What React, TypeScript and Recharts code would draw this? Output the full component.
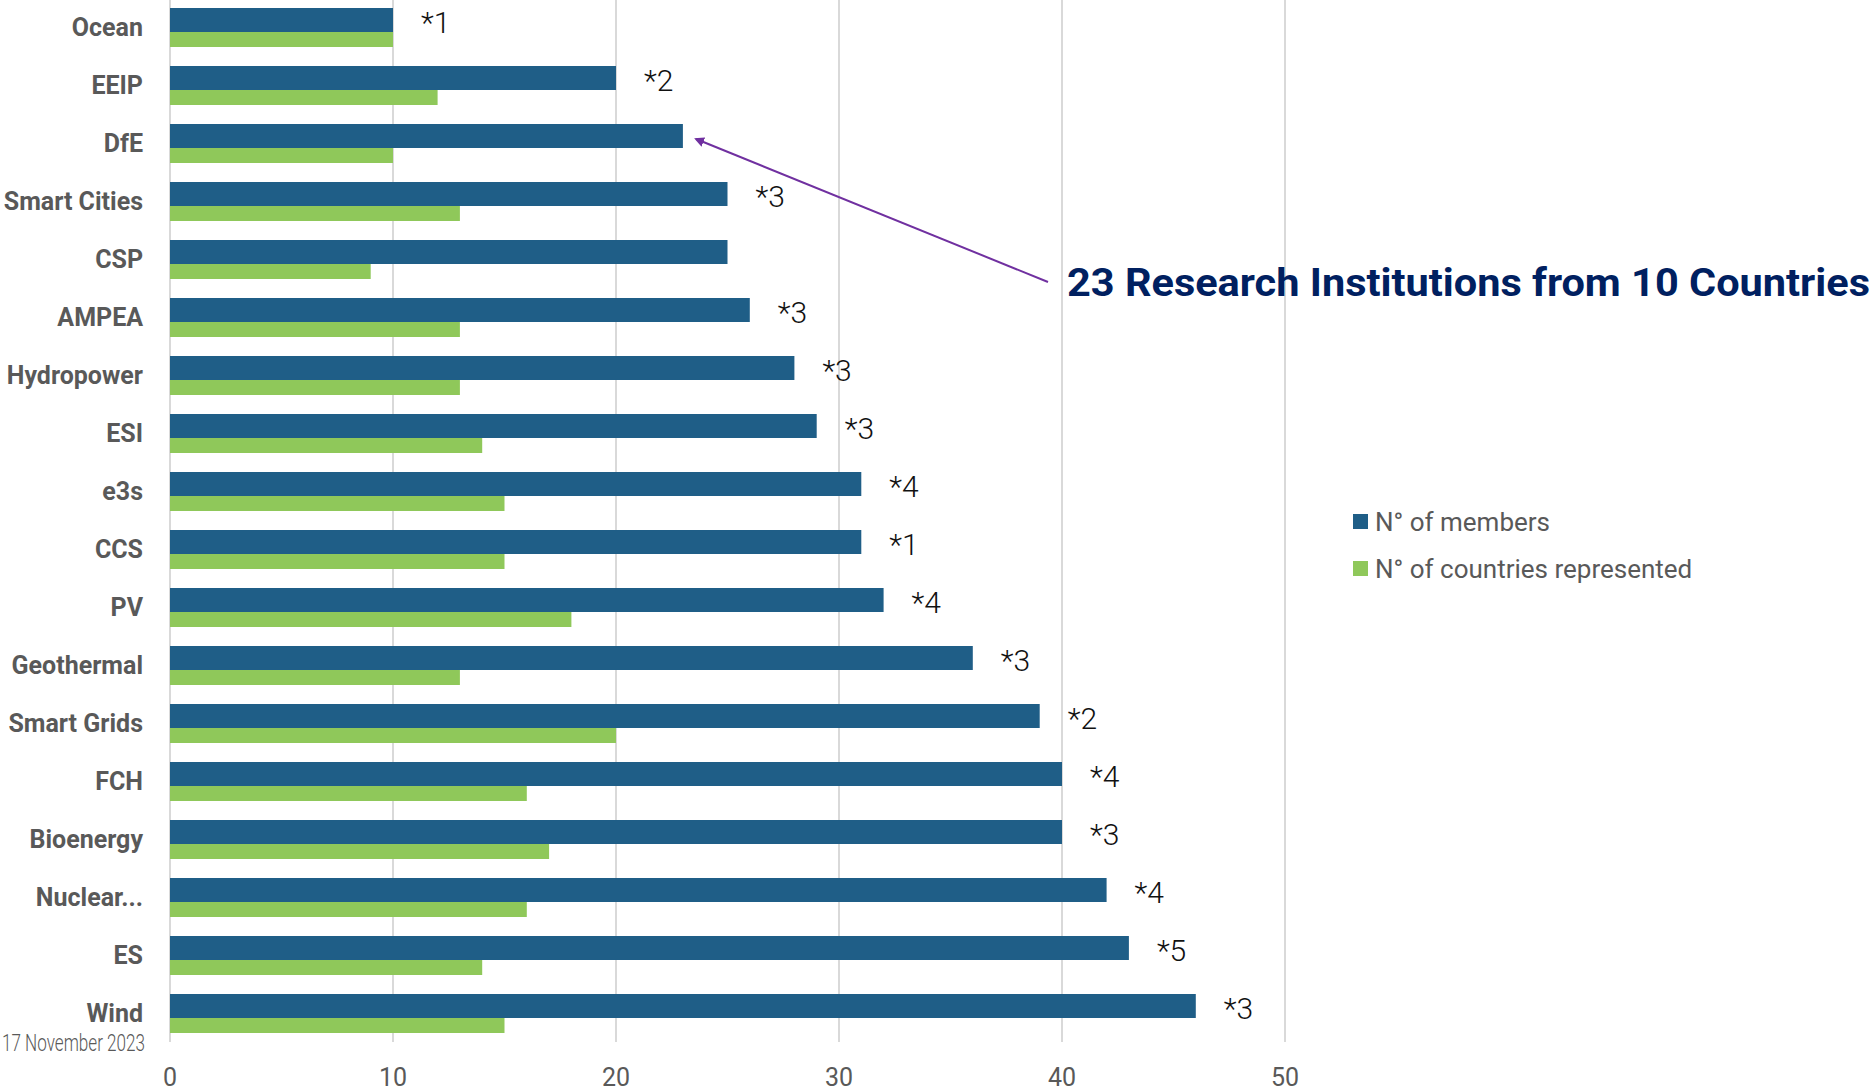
import { Bar, BarChart, CartesianGrid, LabelList, Legend, XAxis, YAxis } from "recharts";

const categories = [
  "Ocean", "EEIP", "DfE", "Smart Cities", "CSP", "AMPEA", "Hydropower", "ESI", "e3s",
  "CCS", "PV", "Geothermal", "Smart Grids", "FCH", "Bioenergy", "Nuclear...", "ES", "Wind",
];
const members = [10, 20, 23, 25, 25, 26, 28, 29, 31, 31, 32, 36, 39, 40, 40, 42, 43, 46];
const countries = [10, 12, 10, 13, 9, 13, 13, 14, 15, 15, 18, 13, 20, 16, 17, 16, 14, 15];
const notes = ["*1", "*2", "", "*3", "", "*3", "*3", "*3", "*4", "*1", "*4", "*3", "*2", "*4", "*3", "*4", "*5", "*3"];
const xTicks = [0, 10, 20, 30, 40, 50];

const BLUE = "#1f5e87";
const GREEN = "#8fc85a";
const GREY = "#595959";
const FONT = "Roboto, 'Noto Sans', sans-serif";

const data = categories.map((name, i) => ({
  name,
  members: members[i],
  countries: countries[i],
  note: notes[i],
}));

const renderNote = (props: any) => {
  const vb = props.viewBox ?? props;
  const x = (vb.x ?? props.x) as number;
  const y = (vb.y ?? props.y) as number;
  const w = (vb.width ?? props.width) as number;
  const h = (vb.height ?? props.height) as number;
  if (!props.value) return null;
  return (
    <text
      x={x + w + 28}
      y={y + h / 2 + 2}
      dominantBaseline="central"
      fontFamily={FONT}
      fontWeight={300}
      fontSize={30}
      fill="#111"
    >
      {props.value}
    </text>
  );
};

const renderLegend = () => (
  <div style={{ fontFamily: FONT, fontSize: 26, color: GREY }}>
    {[
      { label: "N° of members", color: BLUE },
      { label: "N° of countries represented", color: GREEN },
    ].map((item) => (
      <div key={item.label} style={{ display: "flex", alignItems: "center", height: 47 }}>
        <span style={{ width: 15, height: 15, background: item.color, marginRight: 7, display: "inline-block" }} />
        <span>{item.label}</span>
      </div>
    ))}
  </div>
);

export default function App() {
  return (
    <div style={{ position: "absolute", left: 0, top: -2, width: 1874, height: 1093, background: "#fff" }}>
      <BarChart
        width={1874}
        height={1093}
        data={data}
        layout="vertical"
        barGap={0}
        barCategoryGap={0}
        margin={{ top: 0, right: 589, bottom: 0, left: 0 }}
      >
        <CartesianGrid horizontal={false} stroke="#d9d9d9" strokeWidth={2} />
        <XAxis
          type="number"
          domain={[0, 50]}
          ticks={xTicks}
          height={49}
          tickLine={false}
          axisLine={false}
          tickMargin={20}
          tick={{ fill: GREY, fontSize: 25, fontFamily: FONT }}
        />
        <YAxis
          type="category"
          dataKey="name"
          width={170}
          tickLine={false}
          axisLine={false}
          tickMargin={21}
          interval={0}
          tick={{ fill: GREY, fontSize: 25, fontWeight: 700, fontFamily: FONT }}
        />
        <Legend
          layout="horizontal"
          verticalAlign="middle"
          align="center"
          content={renderLegend}
          wrapperStyle={{ left: 1353, top: 500, width: 520 }}
        />
        <Bar dataKey="members" name="N° of members" fill={BLUE} barSize={24} isAnimationActive={false}>
          <LabelList dataKey="note" content={renderNote} />
        </Bar>
        <Bar dataKey="countries" name="N° of countries represented" fill={GREEN} barSize={15} isAnimationActive={false} />
      </BarChart>
      <svg
        width={1874}
        height={1093}
        style={{ position: "absolute", left: 0, top: 0, pointerEvents: "none" }}
      >
        <defs>
          <marker id="arrow" markerWidth="10" markerHeight="10" refX="8" refY="5" orient="auto" markerUnits="userSpaceOnUse">
            <path d="M0,0 L10,5 L0,10 z" fill="#7030a0" />
          </marker>
        </defs>
        <line x1={1048} y1={284} x2={696} y2={141} stroke="#7030a0" strokeWidth={2} markerEnd="url(#arrow)" />
        <text
          x={1067}
          y={285}
          dominantBaseline="central"
          fontFamily={FONT}
          fontWeight={700}
          fontSize={38}
          fill="#002060"
          textLength={803}
          lengthAdjust="spacingAndGlyphs"
        >
          23 Research Institutions from 10 Countries
        </text>
        <text
          x={2}
          y={1045}
          dominantBaseline="central"
          fontFamily={FONT}
          fontWeight={300}
          fontSize={23}
          fill={GREY}
          textLength={143}
          lengthAdjust="spacingAndGlyphs"
        >
          17 November 2023
        </text>
      </svg>
    </div>
  );
}
